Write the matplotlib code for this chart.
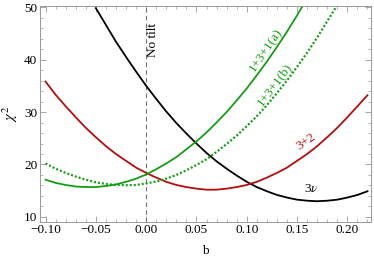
import matplotlib
matplotlib.use("Agg")
import matplotlib.pyplot as plt
from matplotlib.ticker import MultipleLocator

plt.rcParams['font.family'] = ['Liberation Serif', 'DejaVu Serif']
plt.rcParams['mathtext.fontset'] = 'stix'

b_full = [-0.10, -0.09, -0.08, -0.07, -0.06, -0.05, -0.04, -0.03, -0.02, -0.01,
          0.00, 0.01, 0.02, 0.03, 0.04, 0.05, 0.06, 0.07, 0.08, 0.09,
          0.10, 0.11, 0.12, 0.13, 0.14, 0.15, 0.16, 0.17, 0.18, 0.19,
          0.20, 0.21, 0.22]

b_3nu = [-0.05, -0.04, -0.03, -0.02, -0.01, 0.00, 0.01, 0.02, 0.03, 0.04,
         0.05, 0.06, 0.07, 0.08, 0.09, 0.10, 0.11, 0.12, 0.13, 0.14,
         0.15, 0.16, 0.17, 0.18, 0.19, 0.20, 0.21, 0.22]
chi_3nu = [49.8, 46.6, 43.4, 40.5, 37.7, 35.0, 32.5, 30.1, 27.9, 25.9,
           24.0, 22.2, 20.6, 19.2, 17.9, 16.7, 15.7, 14.9, 14.2, 13.7,
           13.3, 13.1, 13.0, 13.1, 13.3, 13.7, 14.2, 14.9]

chi_32 = [35.8, 33.3, 31.1, 29.0, 27.0, 25.2, 23.5, 22.0, 20.7, 19.4,
          18.4, 17.5, 16.7, 16.1, 15.7, 15.4, 15.2, 15.2, 15.4, 15.7,
          16.1, 16.7, 17.5, 18.4, 19.4, 20.7, 22.0, 23.5, 25.2, 27.0,
          29.0, 31.1, 33.2]

b_131a = [-0.10, -0.09, -0.08, -0.07, -0.06, -0.05, -0.04, -0.03, -0.02, -0.01,
          0.00, 0.01, 0.02, 0.03, 0.04, 0.05, 0.06, 0.07, 0.08, 0.09,
          0.10, 0.11, 0.12, 0.13, 0.14, 0.15, 0.16]
chi_131a = [17.1, 16.5, 16.1, 15.8, 15.7, 15.7, 15.9, 16.2, 16.7, 17.3,
            18.1, 19.1, 20.2, 21.4, 22.9, 24.4, 26.1, 28.0, 30.0, 32.2,
            34.5, 37.0, 39.6, 42.4, 45.3, 48.4, 51.7]

b_131b = [-0.10, -0.09, -0.08, -0.07, -0.06, -0.05, -0.04, -0.03, -0.02, -0.01,
          0.00, 0.01, 0.02, 0.03, 0.04, 0.05, 0.06, 0.07, 0.08, 0.09,
          0.10, 0.11, 0.12, 0.13, 0.14, 0.15, 0.16, 0.17, 0.18, 0.19]
chi_131b = [20.2, 19.2, 18.4, 17.7, 17.1, 16.6, 16.3, 16.1, 16.05, 16.1,
            16.4, 16.75, 17.3, 18.0, 18.9, 19.9, 21.0, 22.4, 23.9, 25.5,
            27.3, 29.2, 31.3, 33.6, 36.0, 38.6, 41.3, 44.2, 47.3, 50.4]

x_ticks = [-0.10, -0.05, 0.00, 0.05, 0.10, 0.15, 0.20]
x_ticklabels = ["\u22120.10", "\u22120.05", "0.00", "0.05", "0.10", "0.15", "0.20"]
y_ticks = [10, 20, 30, 40, 50]

GREEN = '#149e14'
RED = '#b30d0d'
FS = 9.5

fig = plt.figure(figsize=(3.74, 2.58), dpi=100)
ax = fig.add_axes([40/374, 1 - 221.7/258, (371 - 40)/374, (221.7 - 6)/258])

ax.axvline(0.0, color='#707070', lw=0.8, ls=(0, (4, 3)))
ax.plot(b_3nu, chi_3nu, color='black', lw=1.3)
ax.plot(b_full, chi_32, color=RED, lw=1.3)
ax.plot(b_131a, chi_131a, color=GREEN, lw=1.3)
ax.plot(b_131b, chi_131b, color=GREEN, lw=1.6, ls=(0, (0.9, 0.9)))

ax.set_xlim(-0.1055, 0.2235)
ax.set_ylim(9.1, 50.2)

ax.set_xticks(x_ticks)
ax.set_xticklabels(x_ticklabels)
ax.set_yticks(y_ticks)
ax.xaxis.set_minor_locator(MultipleLocator(0.01))
ax.yaxis.set_minor_locator(MultipleLocator(2))
ax.tick_params(which='both', direction='in', top=True, right=True,
               labelsize=FS, color='#999999', pad=2)
ax.tick_params(which='major', length=4, width=0.6)
ax.tick_params(which='minor', length=2, width=0.5)
for s in ax.spines.values():
    s.set_color('#999999')
    s.set_linewidth(0.7)

ax.set_xlabel('b', fontsize=FS, labelpad=6)
ax.set_ylabel(r'$\chi^2$', fontsize=FS + 1, labelpad=3)

ax.text(0.0065, 43.7, 'No tilt', rotation=90, ha='center', va='center', fontsize=FS, color='black')
ax.text(0.119, 41.8, '1+3+1(a)', rotation=56, ha='center', va='center', fontsize=FS, color=GREEN, rotation_mode='anchor')
ax.text(0.127, 35.3, '1+3+1(b)', rotation=53, ha='center', va='center', fontsize=FS, color=GREEN, rotation_mode='anchor')
ax.text(0.1594, 24.4, '3+2', rotation=35, ha='center', va='center', fontsize=FS, color=RED, rotation_mode='anchor')
ax.text(0.164, 15.4, r'3$\nu$', ha='center', va='center', fontsize=FS, color='black')

fig.savefig('out.png', dpi=100)
